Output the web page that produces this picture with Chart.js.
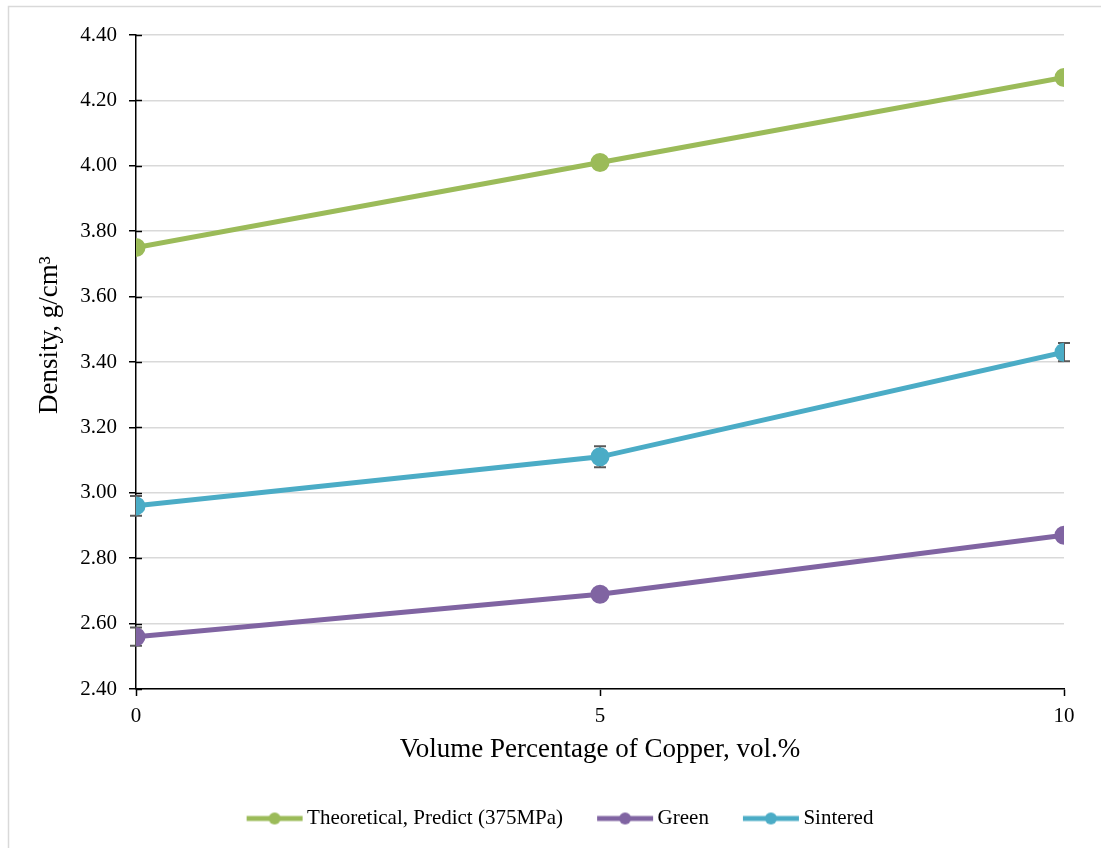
<!DOCTYPE html>
<html>
<head>
<meta charset="utf-8">
<script src="https://cdn.jsdelivr.net/npm/chart.js@4.4.0/dist/chart.umd.min.js"></script>
<style>
  html, body { margin: 0; padding: 0; background: #fff; }
  #wrap { width: 1101px; height: 848px; position: relative; }
</style>
</head>
<body>
<div id="wrap"><canvas id="densityChart"></canvas></div>
<script>
// Data
const copperVol = [0, 5, 10];
const theoretical = [3.75, 4.01, 4.27];
const green = [2.56, 2.69, 2.87];
const sintered = [2.96, 3.11, 3.43];
const greenErr = [0.028, 0.0, 0.0];
const sinteredErr = [0.03, 0.032, 0.028];
const yTicks = [2.40, 2.60, 2.80, 3.00, 3.20, 3.40, 3.60, 3.80, 4.00, 4.20, 4.40];

const serif = '"Liberation Serif", "Times New Roman", serif';

// legend symbol: a short line with a dot in the middle
function legendSymbol(color) {
  const c = document.createElement('canvas');
  c.width = 58;
  c.height = 14;
  const g = c.getContext('2d');
  g.strokeStyle = color;
  g.lineWidth = 5;
  g.beginPath();
  g.moveTo(1, 7);
  g.lineTo(57, 7);
  g.stroke();
  g.fillStyle = color;
  g.beginPath();
  g.arc(29, 7, 6, 0, Math.PI * 2);
  g.fill();
  return c;
}

function toPoints(values) {
  return copperVol.map((x, i) => ({ x: x, y: values[i] }));
}

// error bars, inner tick marks and the outer frame
const extras = {
  id: 'extras',
  afterLayout(chart) {
    // the legend sits a little right of centre in the original
    chart.legend.left += 27;
    chart.legend.right += 27;
  },
  beforeDraw(chart) {
    const ctx = chart.ctx;
    ctx.save();
    ctx.strokeStyle = '#d9d9d9';
    ctx.lineWidth = 1.5;
    ctx.beginPath();
    ctx.moveTo(8.5, chart.height);
    ctx.lineTo(8.5, 6.5);
    ctx.lineTo(chart.width + 5, 6.5);
    ctx.stroke();
    ctx.restore();
  },
  beforeDatasetsDraw(chart) {
    const ctx = chart.ctx;
    const xs = chart.scales.x;
    const ys = chart.scales.y;
    ctx.save();
    // y ticks cross the axis line
    ctx.strokeStyle = '#000';
    ctx.lineWidth = 1.5;
    yTicks.forEach(v => {
      const py = Math.round(ys.getPixelForValue(v)) + 0.5;
      ctx.beginPath();
      ctx.moveTo(xs.left, py);
      ctx.lineTo(xs.left + 6, py);
      ctx.stroke();
    });
    // error bars (behind the markers)
    ctx.strokeStyle = '#595959';
    ctx.lineWidth = 2;
    const bars = [[green, greenErr], [sintered, sinteredErr]];
    bars.forEach(([vals, errs]) => {
      vals.forEach((v, i) => {
        if (!errs[i]) return;
        const px = xs.getPixelForValue(copperVol[i]);
        const top = ys.getPixelForValue(v + errs[i]);
        const bot = ys.getPixelForValue(v - errs[i]);
        ctx.beginPath();
        ctx.moveTo(px, top);
        ctx.lineTo(px, bot);
        ctx.moveTo(px - 6, top);
        ctx.lineTo(px + 6, top);
        ctx.moveTo(px - 6, bot);
        ctx.lineTo(px + 6, bot);
        ctx.stroke();
      });
    });
    ctx.restore();
  }
};

const lineStyle = (color) => ({
  borderColor: color,
  backgroundColor: color,
  pointBackgroundColor: color,
  pointBorderColor: color,
  borderWidth: 5,
  pointRadius: 7,
  pointHoverRadius: 7,
  tension: 0,
  pointStyle: 'circle'
});

const ctx = document.getElementById('densityChart').getContext('2d');
const chart = new Chart(ctx, {
  type: 'line',
  data: {
    datasets: [
      Object.assign({ label: 'Theoretical, Predict (375MPa)', data: toPoints(theoretical), order: 3 }, lineStyle('#9bbb59')),
      Object.assign({ label: 'Green', data: toPoints(green), order: 2 }, lineStyle('#8064a2')),
      Object.assign({ label: 'Sintered', data: toPoints(sintered), order: 1 }, lineStyle('#4bacc6'))
    ]
  },
  options: {
    responsive: true,
    maintainAspectRatio: false,
    animation: false,
    layout: { padding: { left: 8, right: 37, top: 35, bottom: 9 } },
    scales: {
      x: {
        type: 'linear',
        min: 0,
        max: 10,
        afterBuildTicks: (scale) => { scale.ticks = copperVol.map(v => ({ value: v })); },
        ticks: { color: '#000', font: { family: serif, size: 21 }, padding: 8 },
        grid: { drawOnChartArea: false, drawTicks: true, tickLength: 7, tickColor: '#000', tickWidth: 1.5 },
        border: { color: '#000', width: 1.5 },
        title: {
          display: true,
          text: 'Volume Percentage of Copper, vol.%',
          color: '#000',
          font: { family: serif, size: 27 },
          padding: { top: 0, bottom: 2 }
        },
        afterFit: (scale) => { scale.height = 79; }
      },
      y: {
        min: 2.4,
        max: 4.4,
        afterBuildTicks: (scale) => { scale.ticks = yTicks.map(v => ({ value: v })); },
        ticks: {
          color: '#000',
          font: { family: serif, size: 21 },
          padding: 12,
          callback: (v) => Number(v).toFixed(2)
        },
        grid: { color: '#d9d9d9', lineWidth: 1.5, drawTicks: true, tickLength: 7, tickColor: '#000', tickWidth: 1.5 },
        border: { color: '#000', width: 1.5 },
        title: {
          display: true,
          // leading spaces lift the label a bit above the plot centre, as in the original
          text: '        Density, g/cm\u00b3',
          color: '#000',
          font: { family: serif, size: 27 },
          padding: { top: 26, bottom: 0 }
        },
        afterFit: (scale) => { scale.width = 128; }
      }
    },
    plugins: {
      legend: {
        position: 'bottom',
        labels: {
          color: '#000',
          font: { family: serif, size: 21 },
          usePointStyle: true,
          pointStyleWidth: 44,
          padding: 40,
          generateLabels: (ch) => ch.data.datasets.map((ds, i) => ({
            text: ds.label,
            fontColor: '#000',
            pointStyle: legendSymbol(ds.borderColor),
            lineWidth: 0,
            strokeStyle: 'transparent',
            fillStyle: ds.borderColor,
            datasetIndex: i,
            hidden: false
          }))
        }
      },
      tooltip: { enabled: false }
    }
  },
  plugins: [extras]
});
</script>
</body>
</html>
